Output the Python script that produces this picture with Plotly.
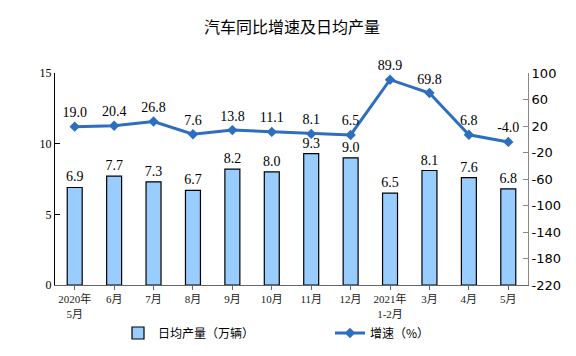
import plotly.graph_objects as go

categories = ["2020年<br>5月", "6月", "7月", "8月", "9月", "10月", "11月", "12月",
              "2021年<br>1-2月", "3月", "4月", "5月"]
daily_output = [6.9, 7.7, 7.3, 6.7, 8.2, 8.0, 9.3, 9.0, 6.5, 8.1, 7.6, 6.8]
growth = [19.0, 20.4, 26.8, 7.6, 13.8, 11.1, 8.1, 6.5, 89.9, 69.8, 6.8, -4.0]
right_ticks = [100, 60, 20, -20, -60, -100, -140, -180, -220]

x = list(range(len(categories)))

# page body has an 8px margin, so the figure is drawn 8px smaller and offset
W, H = 568, 348

fig = go.Figure()
fig.add_trace(go.Bar(
    x=x, y=daily_output, name="日均产量（万辆）", legend="legend",
    marker=dict(color="#99CCFF", line=dict(color="black", width=1.2)),
    width=0.38,
    text=[f"{v:.1f}" for v in daily_output], textposition="outside",
    constraintext="none",
    textfont=dict(family="Liberation Serif, Times New Roman, serif", size=14, color="black"),
    cliponaxis=False,
))
fig.add_trace(go.Scatter(
    x=x, y=growth, name="增速（%）", yaxis="y2", mode="lines+markers+text", legend="legend2",
    line=dict(color="#2E6EBF", width=3),
    marker=dict(symbol="diamond", size=8, color="#2E6EBF"),
    text=[f"{v:.1f}" for v in growth], textposition="top center",
    textfont=dict(family="Liberation Serif, Times New Roman, serif", size=14, color="black"),
    cliponaxis=False,
))

legend_common = dict(orientation="h", xref="container", yref="container",
                     xanchor="left", yanchor="middle", y=1 - 325 / H,
                     font=dict(family="Noto Sans CJK SC", size=12, color="black"),
                     itemwidth=30, bgcolor="rgba(0,0,0,0)")

fig.update_layout(
    width=W, height=H,
    margin=dict(l=47, r=48, t=65, b=71, autoexpand=False),
    paper_bgcolor="white", plot_bgcolor="white",
    title=dict(text="汽车同比增速及日均产量", x=0.5, xanchor="center",
               y=1 - 19 / H, yanchor="middle",
               font=dict(family="Noto Sans CJK SC", size=16, color="black")),
    showlegend=True,
    legend=dict(x=110 / W, **legend_common),
    legend2=dict(x=322 / W, **legend_common),
    xaxis=dict(
        tickmode="array", tickvals=x, ticktext=categories,
        range=[-0.5, len(categories) - 0.5],
        showline=True, linecolor="#666666", linewidth=1,
        ticks="outside", ticklen=4, tickcolor="#666666", tickson="boundaries",
        tickfont=dict(family="Liberation Serif, Noto Sans CJK SC, serif", size=11, color="#222222"),
        showgrid=False, zeroline=False,
    ),
    yaxis=dict(
        range=[0, 15], dtick=5, showline=True, linecolor="black", linewidth=1,
        ticks="inside", ticklen=5, tickcolor="black",
        tickfont=dict(family="Liberation Serif, serif", size=12, color="black"),
        showgrid=False, zeroline=False,
    ),
    yaxis2=dict(
        range=[-220, 100], overlaying="y", side="right",
        tickmode="array", tickvals=right_ticks, ticktext=[str(v) for v in right_ticks],
        showline=True, linecolor="#888888", linewidth=1,
        ticks="inside", ticklen=5, tickcolor="#888888",
        tickfont=dict(family="DejaVu Sans, sans-serif", size=13, color="black"),
        showgrid=False, zeroline=False,
    ),
)

fig.write_html("out.html")
